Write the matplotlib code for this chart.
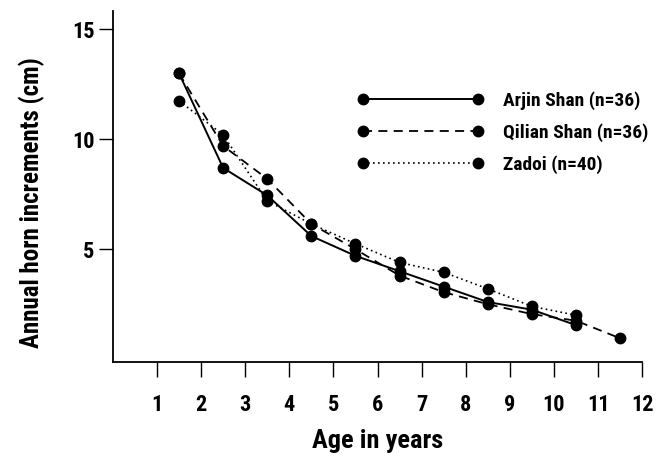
import matplotlib
matplotlib.use("Agg")
import matplotlib.pyplot as plt
from matplotlib.lines import Line2D
from matplotlib import font_manager as fm

# pick a condensed bold family if one is installed
_fonts = fm.fontManager.ttflist
_names = {f.name for f in _fonts}
family = None
stretch = 'normal'
for cand in ['Roboto Condensed', 'Liberation Sans Narrow', 'Open Sans Condensed',
             'Noto Sans Condensed', 'DejaVu Sans Condensed']:
    if cand in _names:
        family = cand
        break
if family is None:
    if any(f.name == 'DejaVu Sans' and str(f.stretch) in ('condensed', '75', 'semi-condensed')
           for f in _fonts):
        family = 'DejaVu Sans'
        stretch = 'condensed'
    else:
        family = 'Roboto'
plt.rcParams['font.family'] = [family, 'DejaVu Sans']
plt.rcParams['font.stretch'] = stretch
plt.rcParams['font.weight'] = 'bold'

age = [1.5, 2.5, 3.5, 4.5, 5.5, 6.5, 7.5, 8.5, 9.5, 10.5, 11.5]
arjin = [13.0, 8.7, 7.45, 5.6, 4.7, 4.0, 3.3, 2.6, 2.25, 1.55]
qilian = [13.0, 9.7, 8.2, 6.15, 5.0, 3.8, 3.05, 2.5, 2.05, 1.75, 0.95]
zadoi = [11.75, 10.2, 7.2, 6.15, 5.25, 4.4, 3.95, 3.2, 2.4, 2.0]

series_labels = ['Arjin Shan (n=36)', 'Qilian Shan (n=36)', 'Zadoi (n=40)']
xticks = list(range(1, 13))
yticks = [5, 10, 15]

fig = plt.figure(figsize=(6.56, 4.63), dpi=100)
ax = fig.add_axes([0.172, 0.218, 0.807, 0.759])

ms = 7.5
ax.plot(age[:len(arjin)], arjin, '-', color='black', lw=1.4, marker='o', ms=ms)
ax.plot(age[:len(qilian)], qilian, color='black', lw=1.3, ls=(0, (5, 3.5)), marker='o', ms=ms)
ax.plot(age[:len(zadoi)], zadoi, color='black', lw=1.2, ls=(0, (1, 2)), marker='o', ms=ms)

ax.set_xlim(0, 12)
ax.set_ylim(-0.13, 15.85)
ax.spines['top'].set_visible(False)
ax.spines['right'].set_visible(False)
ax.spines['left'].set_linewidth(1.3)
ax.spines['bottom'].set_linewidth(1.3)

big = 16 if family != 'Roboto' else 14
ax.set_xticks(xticks)
ax.set_xticklabels([str(t) for t in xticks], fontsize=big, fontweight='bold')
ax.set_yticks(yticks)
ax.set_yticklabels([str(t) for t in yticks], fontsize=big, fontweight='bold')
ax.tick_params(axis='x', direction='out', length=11, width=1.0, pad=12)
ax.tick_params(axis='y', direction='out', length=10, width=1.0, pad=3)

ax.set_xlabel('Age in years', fontsize=19 if family != 'Roboto' else 17,
              fontweight='bold', labelpad=9)
ax.set_ylabel('Annual horn increments (cm)', fontsize=18 if family != 'Roboto' else 15,
              fontweight='bold')
ax.yaxis.set_label_coords(-0.128, 0.455)

handles = [
    Line2D([], [], color='black', lw=1.4, ls='-', marker='o', ms=ms),
    Line2D([], [], color='black', lw=1.3, ls=(0, (5, 3.5)), marker='o', ms=ms),
    Line2D([], [], color='black', lw=1.2, ls=(0, (1, 2)), marker='o', ms=ms),
]
lfs = 14 if family != 'Roboto' else 12
hl = 115 / 1.389 / lfs + 0.6
leg = ax.legend(handles, series_labels, loc='upper left', bbox_to_anchor=(0.428, 0.82),
                frameon=False, numpoints=2, handlelength=hl, handletextpad=1.0,
                labelspacing=0.68, prop={'size': lfs, 'weight': 'bold'})

fig.savefig('out.png', dpi=100)
